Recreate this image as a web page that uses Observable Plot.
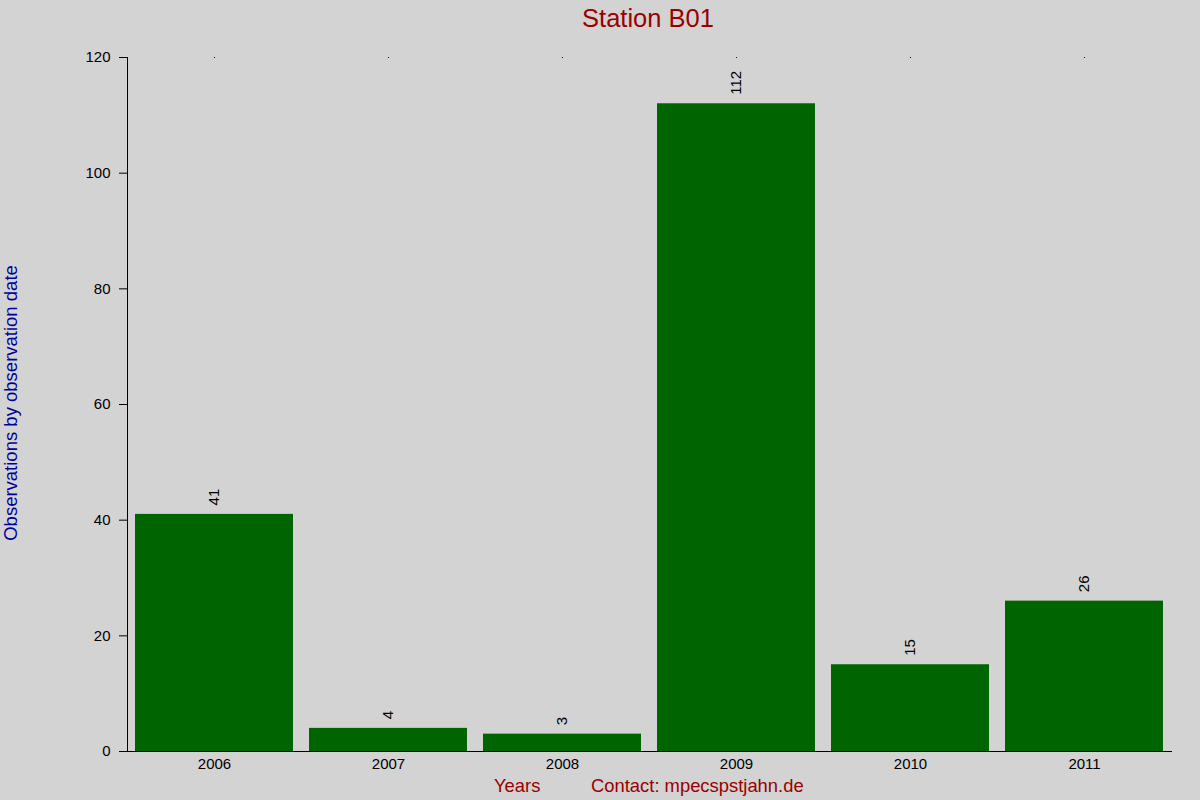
<!DOCTYPE html>
<html>
<head>
<meta charset="utf-8">
<script src="https://cdn.jsdelivr.net/npm/d3@7"></script>
<script src="https://cdn.jsdelivr.net/npm/@observablehq/plot@0.6"></script>
<style>
  html, body { margin: 0; padding: 0; background: #d3d3d3; }
  #chart svg { display: block; }
  #chart svg g[aria-label="y-axis tick label"] text,
  #chart svg g[aria-label="x-axis tick label"] text { font-size: 15px; }
</style>
</head>
<body>
<div id="chart"></div>
<script>
const years = ["2006", "2007", "2008", "2009", "2010", "2011"];
const counts = [41, 4, 3, 112, 15, 26];
const yTicks = [0, 20, 40, 60, 80, 100, 120];
const titleText = "Station B01";
const yLabel = "Observations by observation date";
const xLabel = "Years";
const contactText = "Contact: mpecspstjahn.de";

const data = years.map((y, i) => ({year: y, count: counts[i]}));
const font = "'Liberation Sans', Arial, sans-serif";

const chart = Plot.plot({
  width: 1200,
  height: 800,
  marginTop: 57,
  marginBottom: 49,
  marginLeft: 127,
  marginRight: 29,
  style: {background: "#d3d3d3", fontFamily: font, fontSize: "15px", color: "black"},
  x: {domain: years, paddingInner: 0.092, paddingOuter: 0.046, label: null},
  y: {domain: [0, 120], label: null},
  marks: [
    Plot.barY(data, {x: "year", y: "count", fill: "#006400"}),
    Plot.frame({anchor: "left", stroke: "black", strokeOpacity: 1}),
    Plot.frame({anchor: "bottom", stroke: "black", strokeOpacity: 1}),
    Plot.axisY({ticks: yTicks, tickSize: 8, tickPadding: 9, fontSize: 15, label: null, stroke: "black", strokeOpacity: 1}),
    Plot.axisX({tickSize: 0, tickPadding: 7, fontSize: 15, label: null}),
    Plot.dot(years, {x: d => d, frameAnchor: "top", r: 0.6, fill: "black", stroke: null}),
    Plot.text(data, {x: "year", y: "count", text: d => String(d.count), rotate: -90, textAnchor: "start", lineAnchor: "middle", dy: -9, fontSize: 15, fill: "black"})
  ]
});

document.getElementById("chart").appendChild(chart);

const svg = d3.select(chart);
svg.append("text")
  .attr("x", 648).attr("y", 27)
  .attr("text-anchor", "middle")
  .attr("font-family", font).attr("font-size", 25.5)
  .attr("fill", "#990000")
  .text(titleText);
svg.append("text")
  .attr("transform", "translate(17,403) rotate(-90)")
  .attr("text-anchor", "middle")
  .attr("font-family", font).attr("font-size", 18.5)
  .attr("fill", "#000099")
  .text(yLabel);
svg.append("text")
  .attr("x", 494).attr("y", 792)
  .attr("text-anchor", "start")
  .attr("font-family", font).attr("font-size", 18.4)
  .attr("fill", "#990000")
  .text(xLabel);
svg.append("text")
  .attr("x", 591).attr("y", 792)
  .attr("text-anchor", "start")
  .attr("font-family", font).attr("font-size", 18.4)
  .attr("fill", "#990000")
  .text(contactText);
</script>
</body>
</html>
